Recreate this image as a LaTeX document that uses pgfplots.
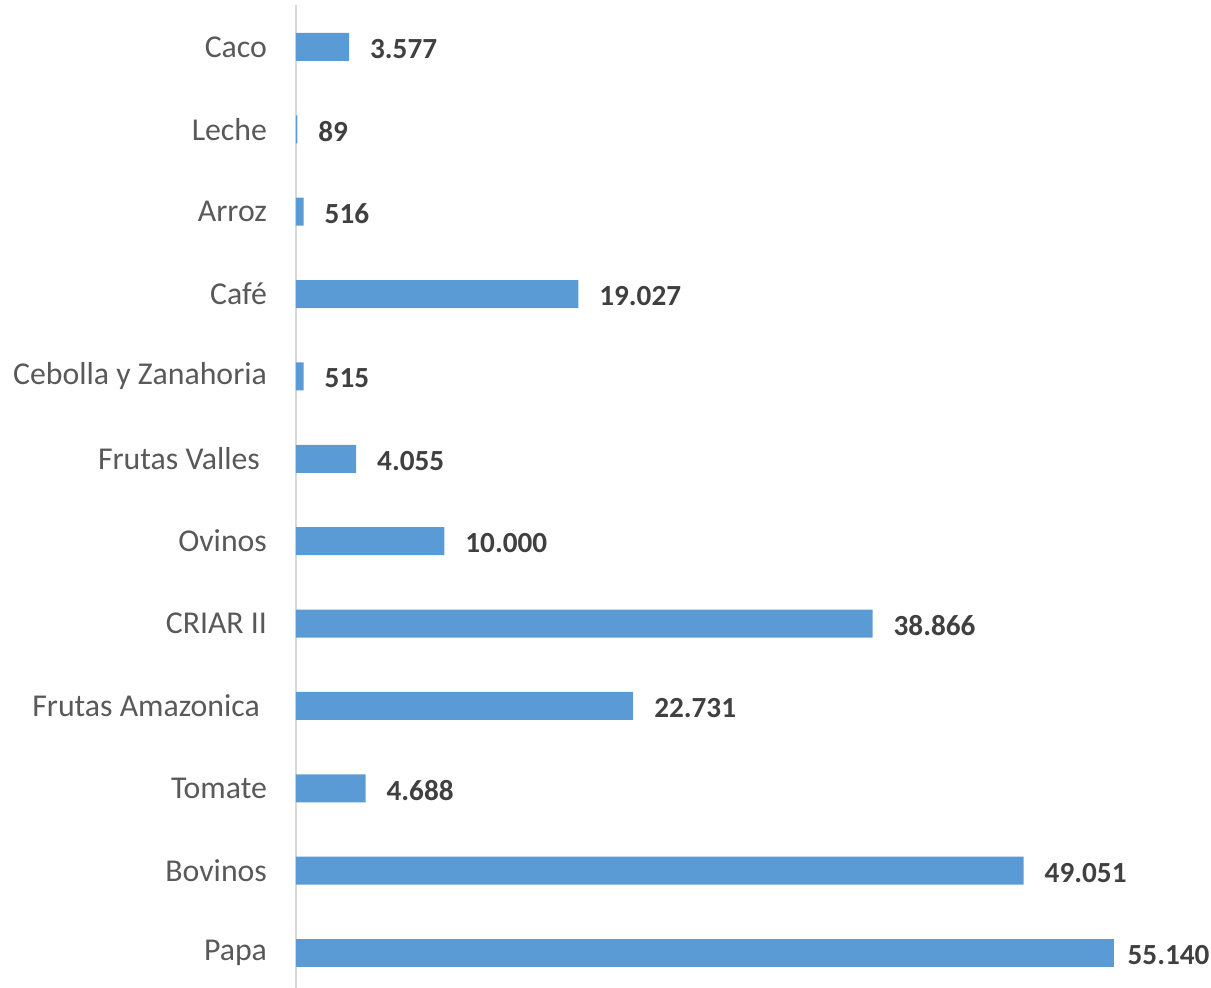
\documentclass[border=0pt]{standalone}
\usepackage{pgfplots}
\pgfplotsset{compat=1.18}
\usepackage{fontspec}
\setmainfont{Carlito}
\definecolor{barblue}{HTML}{5B9BD5}
\definecolor{ticktxt}{HTML}{595959}
\definecolor{valtxt}{HTML}{404040}
\definecolor{axgray}{HTML}{D9D9D9}
\begin{document}
\begin{tikzpicture}
\begin{axis}[
  scale only axis,
  width=457.5pt, height=491.5pt,
  xbar, bar width=14pt, bar shift=0pt,
  xmin=0, xmax=61678,
  ymin=-0.425, ymax=11.51,
  axis x line=none,
  axis y line*=left,
  y axis line style={axgray, line width=1pt, -},
  ytick={0,...,11},
  yticklabels={Papa,Bovinos,Tomate,{Frutas Amazonica\rule{3.5pt}{0pt}},CRIAR II,Ovinos,{Frutas Valles\rule{3.5pt}{0pt}},Cebolla y Zanahoria,Café,Arroz,Leche,Caco},
  major tick length=0pt,
  yticklabel style={font=\fontsize{15.9}{19}\selectfont, text=ticktxt, xshift=-11pt},
  nodes near coords,
  nodes near coords style={font=\fontsize{14.6}{17}\selectfont\bfseries, text=valtxt, anchor=west, xshift=7pt, yshift=-1pt},
  /pgf/number format/.cd, fixed, precision=0, 1000 sep={.}, assume math mode=true,
  /pgfplots/.cd,
  clip=false,
]
\addplot[fill=barblue, draw=none] coordinates {
(49051,1) (4688,2) (22731,3) (38866,4) (10000,5) (4055,6) (515,7) (19027,8) (516,9) (89,10) (3577,11)
};
\addplot[fill=barblue, draw=none, nodes near coords style={xshift=-3.7pt}] coordinates {
(55140,0)
};
\end{axis}
\pgfresetboundingbox
\useasboundingbox ([xshift=-148pt]current axis.south west) rectangle ([yshift=2.5pt]current axis.north east);
\end{tikzpicture}
\end{document}
